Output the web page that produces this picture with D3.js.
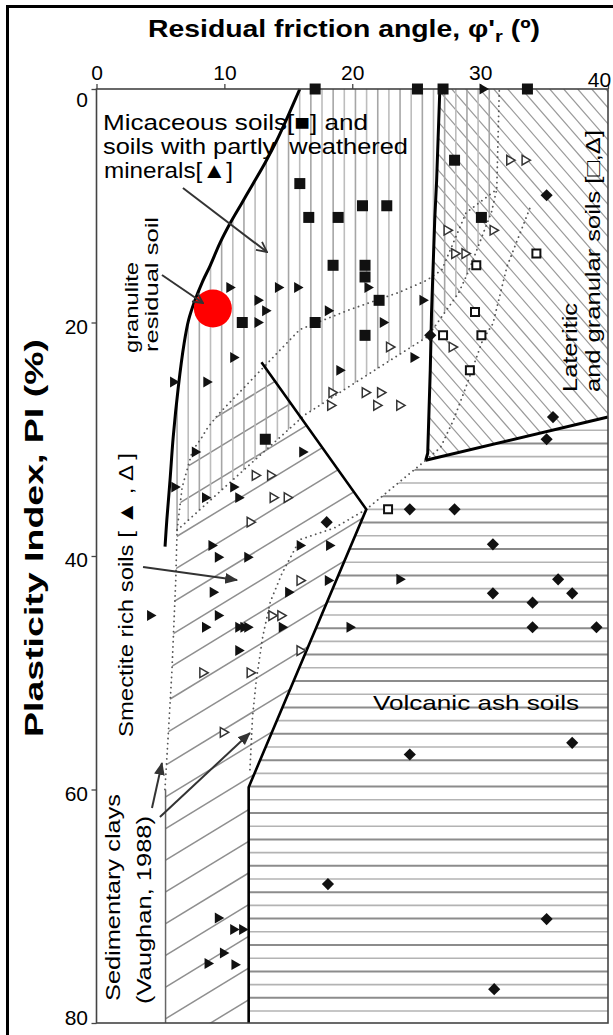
<!DOCTYPE html>
<html>
<head>
<meta charset="utf-8">
<script src="https://cdn.jsdelivr.net/npm/d3@7"></script>
<style>
  html, body { margin: 0; padding: 0; background: #fff; }
  svg { display: block; font-family: "Liberation Sans", Arial, Helvetica, sans-serif; }
</style>
</head>
<body>
<svg id="chart" width="613" height="1035"></svg>
<script>
// ---------------- data (x = residual friction angle φ'r in °, y = plasticity index PI in %) ----------------
const xTicks = [0, 10, 20, 30, 40];
const yTicks = [0, 20, 40, 60, 80];

// micaceous soils (filled squares)
const micaceous = [
  [17.1, 0], [25.1, 0], [27.1, 0], [33.7, 0], [15.9, 8.1], [28.0, 6.1], [16.6, 11.0], [18.9, 11.0],
  [20.8, 10.0], [22.7, 10.0], [30.1, 11.0], [18.5, 15.1], [21.0, 15.1], [21.0, 16.1], [22.1, 18.1],
  [11.4, 20.0], [17.1, 20.0], [21.0, 21.1], [13.2, 30.0]
];
// partly weathered minerals / smectite rich soils (filled triangles)
const filledTriangles = [
  [30.2, 0], [10.4, 17.0], [14.2, 17.0], [15.7, 17.0], [21.2, 17.0], [12.6, 18.1], [25.5, 18.1],
  [13.2, 19.0], [18.1, 19.0], [12.6, 20.0], [22.4, 20.0], [10.7, 23.0], [24.8, 23.0], [19.0, 24.1],
  [6.0, 25.1], [8.6, 25.1], [7.7, 31.1], [16.1, 31.1], [6.1, 34.1], [10.7, 34.1], [8.5, 35.0],
  [11.1, 35.0], [9.0, 39.1], [15.9, 39.1], [18.2, 39.1], [9.5, 40.1], [11.8, 40.1], [23.7, 42.0],
  [18.1, 42.1], [9.1, 43.1], [15.0, 43.1], [4.2, 45.1], [9.5, 45.1], [8.5, 46.1], [11.1, 46.1],
  [11.5, 46.1], [11.8, 46.1], [14.5, 46.1], [19.8, 46.1], [11.1, 48.1], [9.5, 71.0], [10.7, 72.0],
  [11.4, 72.0], [9.9, 74.0], [8.7, 74.9], [10.8, 75.0]
];
// smectite / lateritic soils (open triangles)
const openTriangles = [
  [32.3, 6.1], [33.5, 6.1], [27.4, 12.1], [31.0, 12.1], [28.0, 14.1], [28.8, 14.1], [22.9, 22.1],
  [27.8, 22.1], [18.4, 26.0], [21.0, 26.0], [22.2, 26.0], [18.3, 27.1], [21.9, 27.1], [23.7, 27.1],
  [12.4, 33.1], [13.6, 33.1], [13.8, 35.0], [14.9, 35.0], [12.0, 37.1], [15.9, 42.1], [13.7, 45.1],
  [14.4, 45.1], [15.9, 48.1], [8.3, 50.0], [12.0, 50.0], [9.9, 55.1]
];
// lateritic and granular soils (open squares)
const openSquares = [
  [34.4, 14.1], [29.7, 15.1], [29.6, 19.1], [27.1, 21.1], [30.1, 21.1], [29.2, 24.1], [22.8, 36.0]
];
// volcanic ash soils (filled diamonds)
const volcanic = [
  [35.2, 9.1], [26.1, 21.1], [35.7, 28.1], [35.2, 30.0], [24.5, 36.0], [28.0, 36.0], [18.0, 37.1],
  [31.0, 39.0], [36.1, 42.0], [31.0, 43.2], [37.2, 43.2], [34.1, 44.0], [34.1, 46.1], [39.1, 46.1],
  [37.2, 56.0], [24.5, 57.0], [18.1, 68.1], [35.2, 71.1], [31.1, 77.1]
];
// granulite residual soil
const granulite = [[9.1, 18.8]];

// ---------------- zone boundaries ----------------
const micaceousEdge = [
  [15.9, 0], [15.1, 2.0], [14.1, 4.4], [13.2, 6.3], [12.2, 8.2], [11.35, 9.8], [10.45, 11.5],
  [9.65, 13.2], [8.9, 15.1], [8.25, 16.6], [7.7, 18.1], [7.2, 19.8], [6.85, 21.8], [6.4, 25.5],
  [6.0, 29.8], [5.75, 33.5], [5.5, 36.9], [5.36, 39.2]
];
const lateriticEdge = [[26.85, 0], [26.6, 7.8], [26.45, 11.2], [26.2, 19.2], [26.1, 24.1], [25.9, 31.2], [25.75, 31.8]];
const lateriticBase = [[25.75, 31.8], [40, 28.1]];
const volcanicEdge = [[12.9, 23.4], [21.1, 36.0], [11.9, 59.8], [11.9, 80]];

const upperDotted = [
  [5.35, 60], [5.6, 55.5], [5.9, 49.8], [6.2, 42], [6.3, 37.8], [6.7, 34.1], [7.5, 31.0], [8.2, 29.9],
  [8.7, 29.0], [9.5, 27.9], [15.9, 20.6], [19.8, 18.9], [23.7, 17.4], [25.8, 16.4], [27.0, 15.5],
  [28.9, 10.6], [31.3, 8.6], [31.5, 0]
];
const lowerDotted = [[6.3, 37.8], [16.3, 27.9], [25.9, 21.2], [28.3, 17.5], [29.1, 15.6], [30.9, 10.5], [31.3, 8.6]];
const vaughanUpper = [
  [12.0, 58.3], [12.2, 53.8], [12.5, 50.6], [13.0, 46.9], [13.6, 43.9], [14.5, 41.5], [15.9, 38.6],
  [18.6, 37.6], [21.1, 36.0], [25.75, 31.8]
];
const lateriticInner = [[25.75, 31.8], [26.9, 30.7], [27.9, 28.4], [28.9, 25.5], [30.2, 21.5], [31.0, 20.1], [32.1, 15.2], [34.0, 9.9]];
const vaughanLower = [[5.4, 60], [5.4, 80]];

// ---------------- scales ----------------
const x = d3.scaleLinear().domain([0, 40]).range([96.5, 608]);
const y = d3.scaleLinear().domain([0, 80]).range([89, 1023]);
const X0 = x(0), X1 = x(40), Y0 = y(0), Y1 = y(80);

const svg = d3.select("#chart");
const defs = svg.append("defs");
const line = d3.line().x(d => x(d[0])).y(d => y(d[1]));
const smooth = d3.line().x(d => x(d[0])).y(d => y(d[1])).curve(d3.curveCatmullRom);

// zone outlines used as clip regions for the hatching
const vertZone = micaceousEdge.filter(d => d[1] < 38.4).concat([[5.5, 38.3]], lowerDotted, [[31.5, 0]]);
const slashZone = [[9.5, 27.9], [8.7, 29.0], [8.2, 29.9], [7.5, 31.0], [6.7, 34.1], [6.3, 37.8], [6.2, 42],
  [5.9, 49.8], [5.6, 55.5], [5.35, 60], [5.4, 80], [11.9, 80], [11.9, 59.8], [21.1, 36.0], [13.85, 24.9]];
const horizZone = [[21.1, 36.0], [25.75, 31.8], [40, 28.1], [40, 80], [11.9, 80], [11.9, 59.8]];
const backZone = [[26.85, 0], [40, 0], [40, 28.1]].concat(lateriticEdge.slice().reverse());

function clip(id, pts) {
  defs.append("clipPath").attr("id", id).append("path").attr("d", line(pts) + "Z");
}
clip("zVert", vertZone);
clip("zSlash", slashZone);
clip("zHoriz", horizZone);
clip("zBack", backZone);

// ---------------- hatching ----------------
const hatch = svg.append("g").attr("class", "hatch");

// volcanic ash soils: horizontal lines
const gH = hatch.append("g").attr("clip-path", "url(#zHoriz)");
let i = 0;
for (let py = Y1 - 12; py > Y0; py -= 13.2, i++) {
  gH.append("line").attr("x1", X0).attr("x2", X1).attr("y1", py).attr("y2", py)
    .attr("stroke", i % 2 ? "#8c8c8c" : "#b3b3b3").attr("stroke-width", i % 2 ? 2 : 1.6);
}

// lateritic soils: "\" lines
const gB = hatch.append("g").attr("clip-path", "url(#zBack)");
for (let k = -40; k <= 40; k++) {
  const x0 = 521.7 + k * 14;
  gB.append("line").attr("x1", x0).attr("y1", Y0).attr("x2", x0 + (Y1 - Y0) / 1.15).attr("y2", Y1)
    .attr("stroke", "#9a9a9a").attr("stroke-width", 1.2);
}

// smectite rich soils: "/" lines
const gS = hatch.append("g").attr("clip-path", "url(#zSlash)");
for (let k = -40; k <= 40; k++) {
  const c = 860 + k * 31.7;
  gS.append("line").attr("x1", X0).attr("y1", c - 0.61 * (X0 - 166))
    .attr("x2", X1).attr("y2", c - 0.61 * (X1 - 166))
    .attr("stroke", "#8f8f8f").attr("stroke-width", 1.5);
}

// micaceous soils: vertical lines
const gV = hatch.append("g").attr("clip-path", "url(#zVert)");
i = 0;
for (let px = 99; px < X1; px += 11.15, i++) {
  gV.append("line").attr("x1", px).attr("x2", px).attr("y1", Y0).attr("y2", Y1)
    .attr("stroke", i % 2 ? "#a6a6a6" : "#bdbdbd").attr("stroke-width", 1.6);
}

// ---------------- boundaries ----------------
const bnd = svg.append("g").attr("fill", "none");
[upperDotted, lowerDotted, vaughanUpper, lateriticInner].forEach(pts => {
  bnd.append("path").attr("d", line(pts)).attr("stroke", "#555")
    .attr("stroke-width", 1.8).attr("stroke-dasharray", "0.1 5").attr("stroke-linecap", "round");
});
bnd.append("path").attr("d", line(vaughanLower)).attr("stroke", "#666").attr("stroke-width", 1.5);
bnd.append("path").attr("d", smooth(micaceousEdge)).attr("stroke", "#000").attr("stroke-width", 3);
bnd.append("path").attr("d", line(lateriticEdge)).attr("stroke", "#000").attr("stroke-width", 3);
bnd.append("path").attr("d", line(lateriticBase)).attr("stroke", "#000").attr("stroke-width", 3);
bnd.append("path").attr("d", line(volcanicEdge)).attr("stroke", "#000").attr("stroke-width", 2.6);

// ---------------- plot frame and axes ----------------
svg.append("rect").attr("x", X0).attr("y", Y0).attr("width", X1 - X0).attr("height", Y1 - Y0)
  .attr("fill", "none").attr("stroke", "#444").attr("stroke-width", 1.6);

const topAxis = svg.append("g").attr("transform", `translate(0,${Y0})`)
  .call(d3.axisTop(x).tickValues(xTicks).tickSize(5).tickPadding(4));
const leftAxis = svg.append("g").attr("transform", `translate(${X0},0)`)
  .call(d3.axisLeft(y).tickValues(yTicks).tickSize(5).tickPadding(3.5));
[topAxis, leftAxis].forEach(g => {
  g.select(".domain").remove();
  g.selectAll(".tick line").attr("stroke", "#444").attr("stroke-width", 1.3);
  g.selectAll(".tick text").attr("fill", "#000").style("font-size", "21px")
    .style("font-family", "'Liberation Sans', Arial, sans-serif");
});
topAxis.selectAll(".tick text")
  .attr("dy", d => d === 40 ? "0.35em" : "0em")
  .attr("dx", d => d === 40 ? -9 : 0);
leftAxis.selectAll(".tick text").attr("dy", d => d === 0 ? "0.82em" : d === 80 ? "0.06em" : "0.5em");

// outer border
svg.append("rect").attr("x", 7.5).attr("y", 6.5).attr("width", 620).attr("height", 1100)
  .attr("fill", "none").attr("stroke", "#000").attr("stroke-width", 3);

// ---------------- data points ----------------
const pts = svg.append("g");
const symSq = d3.symbol(d3.symbolSquare, 121);
const symTri = d3.symbol(d3.symbolTriangle, 52);
const symTriO = d3.symbol(d3.symbolTriangle, 40);
const symSqO = d3.symbol(d3.symbolSquare, 64);
const symDia = d3.symbol(d3.symbolSquare, 74);

pts.selectAll(".dia").data(volcanic).join("path").attr("class", "dia")
  .attr("d", symDia).attr("transform", d => `translate(${x(d[0])},${y(d[1])}) rotate(45)`).attr("fill", "#111");
pts.selectAll(".sqo").data(openSquares).join("path").attr("class", "sqo")
  .attr("d", symSqO).attr("transform", d => `translate(${x(d[0])},${y(d[1])})`)
  .attr("fill", "#fff").attr("stroke", "#111").attr("stroke-width", 2);
pts.selectAll(".trio").data(openTriangles).join("path").attr("class", "trio")
  .attr("d", symTriO).attr("transform", d => `translate(${x(d[0])},${y(d[1])}) rotate(90)`)
  .attr("fill", "#fff").attr("stroke", "#333").attr("stroke-width", 1.5);
pts.selectAll(".tri").data(filledTriangles).join("path").attr("class", "tri")
  .attr("d", symTri).attr("transform", d => `translate(${x(d[0])},${y(d[1])}) rotate(90)`).attr("fill", "#111");
pts.selectAll(".sq").data(micaceous).join("path").attr("class", "sq")
  .attr("d", symSq).attr("transform", d => `translate(${x(d[0])},${y(d[1])})`).attr("fill", "#111");
pts.selectAll(".gran").data(granulite).join("circle").attr("class", "gran")
  .attr("cx", d => x(d[0])).attr("cy", d => y(d[1])).attr("r", 19).attr("fill", "#ff0000");

// ---------------- arrows ----------------
defs.append("marker").attr("id", "headV").attr("viewBox", "0 0 12 12").attr("refX", 11).attr("refY", 6)
  .attr("markerWidth", 12).attr("markerHeight", 12).attr("markerUnits", "userSpaceOnUse").attr("orient", "auto")
  .append("path").attr("d", "M1,1 L11,6 L1,11").attr("fill", "none").attr("stroke", "#333").attr("stroke-width", 1.8);
defs.append("marker").attr("id", "headF").attr("viewBox", "0 0 12 12").attr("refX", 11).attr("refY", 6)
  .attr("markerWidth", 13).attr("markerHeight", 13).attr("markerUnits", "userSpaceOnUse").attr("orient", "auto")
  .append("path").attr("d", "M0,1 L12,6 L0,11 Z").attr("fill", "#333");

const arrows = [
  { from: [6.76, 8.48], to: [13.33, 13.96], head: "headV" },
  { from: [5.12, 15.93], to: [8.33, 18.33], head: "headV" },
  { from: [3.64, 40.94], to: [10.99, 42.06], head: "headF" },
  { from: [4.34, 61.58], to: [5.12, 57.73], head: "headF" },
  { from: [4.96, 62.36], to: [12.0, 55.16], head: "headF" }
];
svg.append("g").selectAll("line").data(arrows).join("line")
  .attr("x1", d => x(d.from[0])).attr("y1", d => y(d.from[1]))
  .attr("x2", d => x(d.to[0])).attr("y2", d => y(d.to[1]))
  .attr("stroke", "#333").attr("stroke-width", 2).attr("marker-end", d => `url(#${d.head})`);

// ---------------- text ----------------
const txt = svg.append("g").attr("fill", "#000");
function label(str, px, py, size, len, rot, weight) {
  const t = txt.append("text").attr("x", px).attr("y", py).style("font-size", size + "px")
    .style("white-space", "pre").text(str);
  if (weight) t.style("font-weight", weight);
  if (len) t.attr("textLength", len).attr("lengthAdjust", "spacingAndGlyphs");
  if (rot) t.attr("transform", `rotate(-90,${px},${py})`);
  return t;
}

// title
const title = txt.append("text").attr("x", 148).attr("y", 37).style("font-size", "24px").style("font-weight", "bold")
  .attr("textLength", 392).attr("lengthAdjust", "spacingAndGlyphs");
title.append("tspan").text("Residual friction angle, \u03C6'");
title.append("tspan").attr("dy", 5).style("font-size", "17px").text("r");
title.append("tspan").attr("dy", -5).text(" (\u00BA)");

// y axis title
label("Plasticity Index, PI (%)", 43, 737, 25, 398, true, "bold");

label("Micaceous soils[\u25A0] and", 103, 130, 22, 265);
label("soils with partly  weathered", 103, 154, 22, 305);
label("minerals[\u25B2]", 104, 178, 22, 129);

label("granulite", 138, 353, 19, 91, true);
label("residual soil", 158, 352, 19, 135, true);

label("Lateritic", 577, 392, 21, 89, true);
label("and granular soils [\u25A1,\u0394]", 600, 392, 21, 262, true);

label("Smectite rich soils [ \u25B2 , \u0394 ]", 133, 737, 21, 284, true);

label("Volcanic ash soils", 373, 710, 21, 206);

label("Sedimentary clays", 120, 1001, 21, 207, true);
label("(Vaughan, 1988)", 151, 1004, 21, 188, true);
</script>
</body>
</html>
